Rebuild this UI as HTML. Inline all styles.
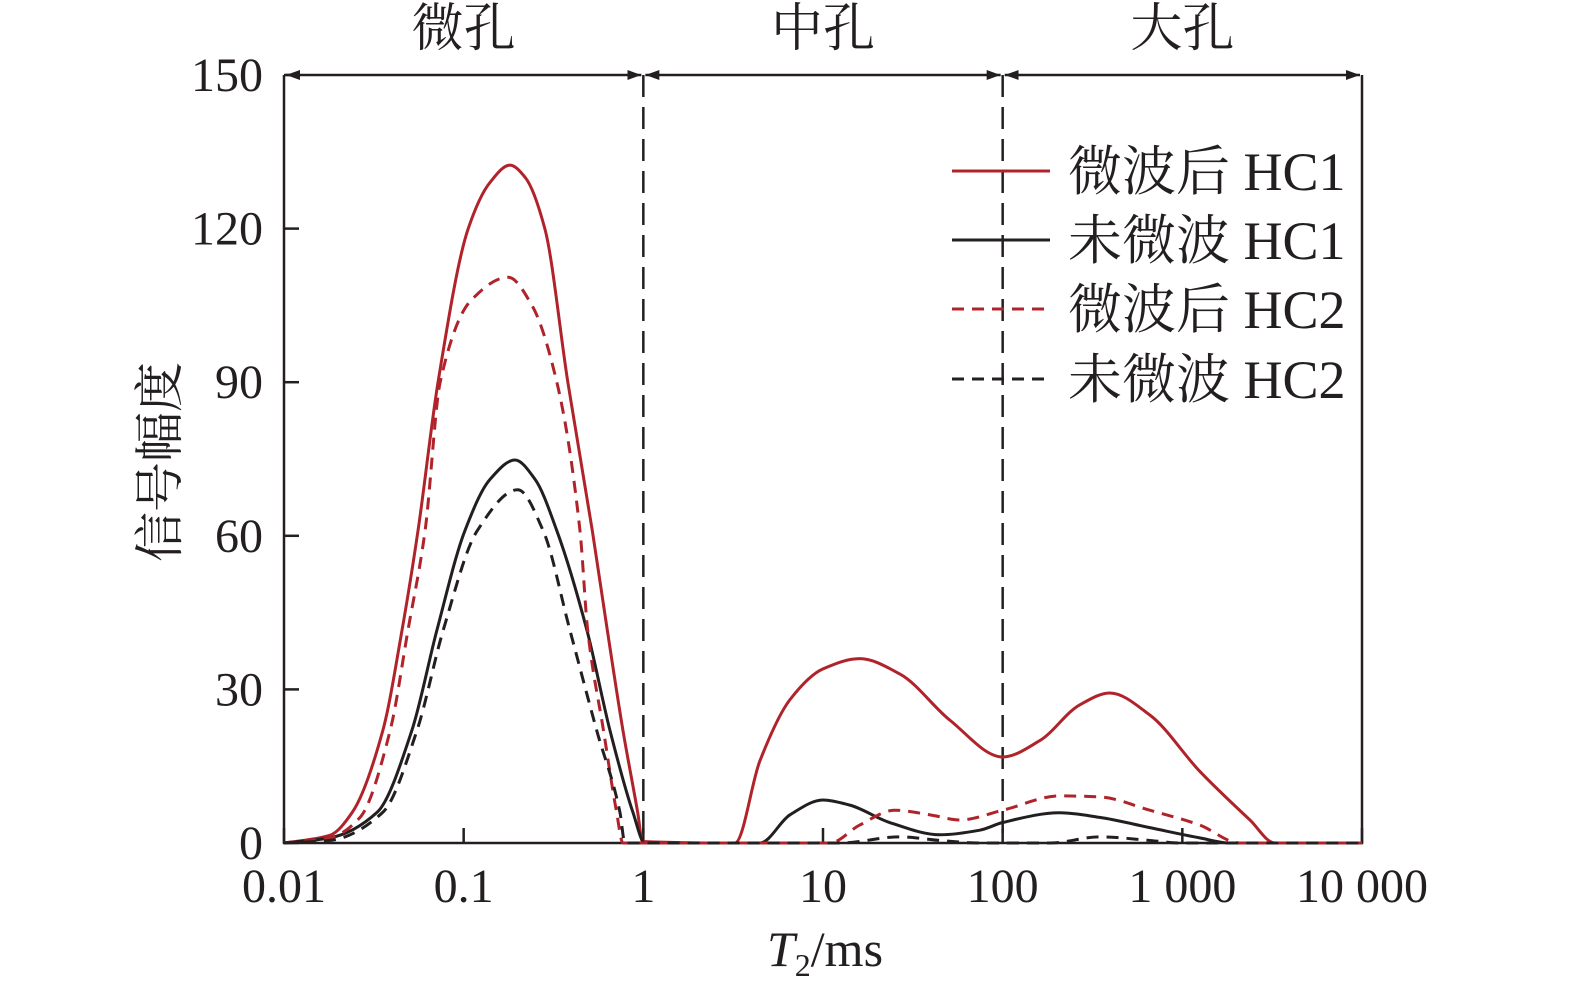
<!DOCTYPE html>
<html><head><meta charset="utf-8"><style>
body{margin:0;background:#fff}
svg text{font-family:"Liberation Serif","Noto Serif CJK SC",serif;fill:#231f20}
</style></head><body>
<svg id="chart" width="1575" height="997" xmlns="http://www.w3.org/2000/svg"></svg>
<script>
const xTicks=[0.01,0.1,1,10,100,1000,10000];
const xTickLabels=["0.01","0.1","1","10","100","1 000","10 000"];
const yTicks=[0,30,60,90,120,150];
const seriesNames=["微波后 HC1","未微波 HC1","微波后 HC2","未微波 HC2"];
const hc1AfterT2=[0.01,0.018,0.024,0.0355,0.0454,0.0557,0.072,0.106,0.14,0.181,0.22,0.283,0.38,0.52,0.63,0.77,0.93,0.99,3.24,4.45,6.55,10,16,26.8,50.8,100,161,269,395,659,1250,2377,3273,10000];
const hc1AfterAmp=[0,1.5,6,22,41.6,61,90,120,129,132.4,130,120,90,61,41.6,22,6,0.3,0,16,28,34,36,33,24,16.8,20,27,29.3,25,14,4.5,0,0];
const hc1BeforeT2=[0.01,0.018,0.033,0.0515,0.071,0.1016,0.14,0.193,0.25,0.33,0.485,0.652,0.875,1.02,4.45,6.55,10,14.1,23.5,44.8,74.6,100,208,347,659,1250,1837,10000];
const hc1BeforeAmp=[0,1,6,22,41.6,61,71,74.8,71,61,41.6,22,6,0,0,5.5,8.4,7.4,4,1.6,2.5,4,5.9,5,3,1,0,0];
const hc2AfterT2=[0.01,0.018,0.0265,0.039,0.049,0.061,0.074,0.11,0.177,0.24,0.33,0.444,0.49,0.6,0.71,0.77,10.9,16,25.1,39.4,57.8,100,208,347,659,1250,2089,10000];
const hc2AfterAmp=[0,1,5,22,41.6,61,90,106,110.5,105,90,61,41.6,22,6,0,0,3.5,6.4,5.5,4.5,6.4,9.2,9,6.4,3.5,0,0];
const hc2BeforeT2=[0.01,0.018,0.0355,0.055,0.077,0.119,0.2,0.277,0.39,0.55,0.741,0.79,12.4,26.8,44.8,74.6,183,347,659,969,10000];
const hc2BeforeAmp=[0,0.5,6,22,41.6,61,69,61,41.6,22,6,0,0,1.2,0.5,0,0,1.2,0.5,0,0];

const svg=document.getElementById('chart');
const NS="http://www.w3.org/2000/svg";
const X0=284,X1=1362,Y0=843,Y1=75;
const xs=v=>X0+(Math.log10(v)+2)/6*(X1-X0);
const ys=v=>Y0-v/150*(Y0-Y1);
function mk(tag,attrs,parent){const e=document.createElementNS(NS,tag);for(const k in attrs)e.setAttribute(k,attrs[k]);(parent||svg).appendChild(e);return e;}
function txt(s,x,y,size,anchor,parent){const t=mk('text',{x:x,y:y,'font-size':size,'text-anchor':anchor||'middle'},parent);t.textContent=s;return t;}

const defs=mk('defs',{});
const m=mk('marker',{id:'ar',markerWidth:14,markerHeight:10,refX:14,refY:5,orient:'auto-start-reverse',markerUnits:'userSpaceOnUse'},defs);
mk('path',{d:'M0,0 L14,5 L0,10 Z',fill:'#231f20'},m);

const axes=mk('g',{});


mk('path',{d:`M${X0},${Y1} L${X0},${Y0} L${X1},${Y0} L${X1},${Y1}`,fill:'none',stroke:'#231f20','stroke-width':2.5},axes);
xTicks.forEach((v,i)=>{const x=xs(v);
  mk('line',{x1:x,y1:Y0,x2:x,y2:Y0-15,stroke:'#231f20','stroke-width':2.5},axes);
  const t=txt(xTickLabels[i],x,902,48,'middle',axes);
  
  
});
yTicks.forEach(v=>{const y=ys(v);
  mk('line',{x1:X0,y1:y,x2:X0+15,y2:y,stroke:'#231f20','stroke-width':2.5},axes);
  const t=txt(String(v),263,y+16,48,'end',axes);
  
  
});
const regions=[[0.01,1,'微孔'],[1,100,'中孔'],[100,10000,'大孔']];
regions.forEach(r=>{
  const a=xs(r[0]),b=xs(r[1]);
  const l=mk('line',{x1:a+2,y1:Y1,x2:b-2,y2:Y1,stroke:'#231f20','stroke-width':2.5,'marker-start':'url(#ar)','marker-end':'url(#ar)'});
  
  
  const t=txt(r[2],(a+b)/2,46,52,'middle');
  
  
});
[1,100].forEach(v=>{const l=mk('line',{x1:xs(v),y1:Y1,x2:xs(v),y2:Y0,stroke:'#231f20','stroke-width':2.5,'stroke-dasharray':'22 10'});
  
  });

function monotone(pts){const n=pts.length;const dx=[],dy=[],s=[];
  for(let i=0;i<n-1;i++){dx.push(pts[i+1][0]-pts[i][0]);dy.push(pts[i+1][1]-pts[i][1]);s.push(dy[i]/dx[i]);}
  const t=[s[0]];
  for(let i=1;i<n-1;i++){ if(s[i-1]*s[i]<=0)t.push(0); else {t.push(3*(dx[i-1]+dx[i])/((2*dx[i]+dx[i-1])/s[i-1]+(dx[i]+2*dx[i-1])/s[i]));}}
  t.push(s[n-2]);
  let d=`M${pts[0][0]},${pts[0][1]}`;
  for(let i=0;i<n-1;i++){const h=dx[i]/3;
    d+=` C${pts[i][0]+h},${pts[i][1]+t[i]*h} ${pts[i+1][0]-h},${pts[i+1][1]-t[i+1]*h} ${pts[i+1][0]},${pts[i+1][1]}`;}
  return d;}
const series=[[hc1AfterT2,hc1AfterAmp,'#b0232a',null,'series-after-hc1'],[hc1BeforeT2,hc1BeforeAmp,'#231f20',null,'series-before-hc1'],
  [hc2AfterT2,hc2AfterAmp,'#b0232a','12 8','series-after-hc2'],[hc2BeforeT2,hc2BeforeAmp,'#231f20','12 8','series-before-hc2']];
series.forEach(s=>{const pts=s[0].map((t,i)=>[xs(t),ys(s[1][i])]);
  const p=mk('path',{d:monotone(pts),fill:'none',stroke:s[2],'stroke-width':3});
  if(s[3])p.setAttribute('stroke-dasharray',s[3]);
  
  
});

const lg=mk('g',{});


[171,240,309,379].forEach((y,i)=>{const s=series[i];
  const l=mk('line',{x1:952,y1:y,x2:1050,y2:y,stroke:s[2],'stroke-width':3},lg);
  if(s[3])l.setAttribute('stroke-dasharray','12 8');
  const t=txt(seriesNames[i],1068,y+19,54,'start',lg);
  
  
});

const yt=txt('信号幅度',0,0,50,'middle');
yt.setAttribute('transform','translate(177,462) rotate(-90)');


const xt=mk('text',{x:825,y:966,'font-size':50,'text-anchor':'middle'});
xt.innerHTML='<tspan font-style="italic">T</tspan><tspan font-size="32" dy="10">2</tspan><tspan dy="-10">/ms</tspan>';


</script>
</body></html>
